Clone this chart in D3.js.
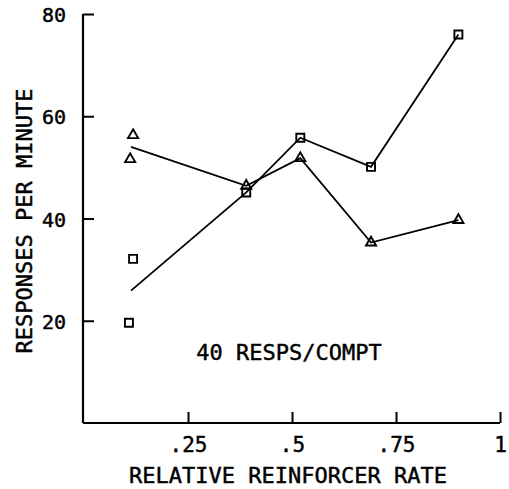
<!DOCTYPE html>
<html>
<head>
<meta charset="utf-8">
<script src="https://cdn.jsdelivr.net/npm/d3@7"></script>
<style>
  html, body { margin: 0; padding: 0; background: #fff; }
  svg text { font-family: "DejaVu Sans Mono", "Liberation Mono", monospace; fill: #000; stroke: #000; stroke-width: 0.45px; }
</style>
</head>
<body>
<svg id="chart" width="509" height="489"></svg>
<script>
// ---- data ----
const xTicks = [0.25, 0.5, 0.75, 1];
const xTickLabels = [".25", ".5", ".75", "1"];
const yTicks = [20, 40, 60, 80];
const yTickLabels = ["20", "40", "60", "80"];

// individual points (squares)
const squareX = [0.108, 0.118, 0.39, 0.52, 0.69, 0.90];
const squareY = [19.6, 32.1, 45.1, 55.8, 50.1, 76.0];
// individual points (triangles)
const triangleX = [0.111, 0.118, 0.39, 0.52, 0.69, 0.90];
const triangleY = [51.6, 56.3, 46.4, 51.8, 35.3, 39.7];

// connecting lines (through mean at left condition)
const lineX = [0.113, 0.39, 0.52, 0.69, 0.90];
const squareLineY = [25.9, 45.1, 55.8, 50.1, 76.0];
const triangleLineY = [54.0, 46.4, 51.8, 35.3, 39.7];

const xLabel = "RELATIVE REINFORCER RATE";
const yLabel = "RESPONSES PER MINUTE";
const noteLabel = "40 RESPS/COMPT";

// ---- drawing ----
const svg = d3.select("#chart");
const x = d3.scaleLinear().domain([0, 1]).range([84, 500]);
const y = d3.scaleLinear().domain([0, 80]).range([423, 14]);

// axes
const xAxis = d3.axisBottom(x).tickValues(xTicks).tickSize(-11).tickFormat((d, i) => xTickLabels[i]).tickPadding(0);
const yAxis = d3.axisLeft(y).tickValues(yTicks).tickSize(-11).tickFormat((d, i) => yTickLabels[i]).tickPadding(0);

const gx = svg.append("g").attr("transform", `translate(0,${y(0)})`).call(xAxis);
gx.select(".domain").attr("d", `M${x(0) - 1},0H${x(1)}`).attr("stroke", "#000").attr("stroke-width", 2.2);
gx.selectAll(".tick line").attr("stroke", "#000").attr("stroke-width", 2);
gx.selectAll(".tick text").attr("y", 0).attr("dy", 29).attr("font-size", 21)
  .style("font-family", '"DejaVu Sans Mono", monospace');

const gy = svg.append("g").attr("transform", `translate(${x(0) - 1},0)`).call(yAxis);
gy.select(".domain").attr("d", `M0,${y(80)}V${y(0)}`).attr("stroke", "#000").attr("stroke-width", 2.2);
gy.selectAll(".tick line").attr("stroke", "#000").attr("stroke-width", 2);
gy.selectAll(".tick text").attr("x", -17).attr("dy", "0.38em").attr("font-size", 20)
  .style("font-family", '"DejaVu Sans Mono", monospace');

// lines
const line = d3.line().x(d => x(d[0])).y(d => y(d[1]));
svg.append("path")
  .attr("d", line(lineX.map((v, i) => [v, squareLineY[i]])))
  .attr("fill", "none").attr("stroke", "#000").attr("stroke-width", 1.8);
svg.append("path")
  .attr("d", line(lineX.map((v, i) => [v, triangleLineY[i]])))
  .attr("fill", "none").attr("stroke", "#000").attr("stroke-width", 1.8);

// markers
const sq = d3.symbol().type(d3.symbolSquare).size(64);
svg.append("g").selectAll("path")
  .data(squareX.map((v, i) => [v, squareY[i]]))
  .join("path")
  .attr("d", sq)
  .attr("transform", d => `translate(${x(d[0])},${y(d[1])})`)
  .attr("fill", "none").attr("stroke", "#000").attr("stroke-width", 1.9);

const tri = d3.symbol().type(d3.symbolTriangle).size(44);
svg.append("g").selectAll("path")
  .data(triangleX.map((v, i) => [v, triangleY[i]]))
  .join("path")
  .attr("d", tri)
  .attr("transform", d => `translate(${x(d[0])},${y(d[1])})`)
  .attr("fill", "none").attr("stroke", "#000").attr("stroke-width", 1.9);

// labels
svg.append("text")
  .attr("x", 288).attr("y", 483)
  .attr("text-anchor", "middle").attr("font-size", 22)
  .text(xLabel);

svg.append("text")
  .attr("transform", `translate(32,221) rotate(-90)`)
  .attr("text-anchor", "middle").attr("font-size", 22)
  .text(yLabel);

svg.append("text")
  .attr("x", 289).attr("y", 360)
  .attr("text-anchor", "middle").attr("font-size", 22)
  .text(noteLabel);
</script>
</body>
</html>
